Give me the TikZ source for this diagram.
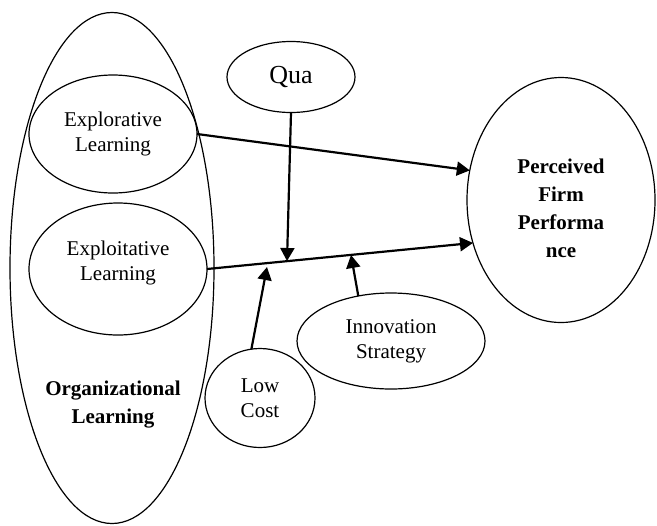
\documentclass[tikz,border=0pt]{standalone}
\usepackage{fontspec}
\setmainfont{Liberation Serif}
\usetikzlibrary{shapes.geometric, arrows.meta}
\tikzstyle{construct} = [ellipse, draw, line width=0.6pt, inner sep=0pt, outer sep=0pt, align=center, font=\fontsize{10.5}{12.5}\selectfont]
\tikzstyle{plaintext} = [align=center, font=\fontsize{10.5}{12.5}\selectfont]
\tikzstyle{boldtext} = [align=center, font=\fontsize{10.5}{14}\selectfont\bfseries]
\tikzstyle{effect} = [-{Triangle[length=6.5pt, width=7pt]}, line width=1.1pt]

\begin{document}
\begin{tikzpicture}[x=0.5pt, y=-0.5pt]
    \useasboundingbox (0,0) rectangle (657,525);

    % Organizational learning and its two dimensions
    \node[construct, minimum width=102pt, minimum height=255.5pt] (org) at (112, 268) {};
    \node[boldtext] (orgtext) at (113, 405) {Organizational\\Learning};
    \node[construct, minimum width=84pt, minimum height=59pt] (explore) at (113, 134) {Explorative\\Learning};
    \node[construct, minimum width=89pt, minimum height=66pt,
          label={[plaintext, yshift=3pt]center:Exploitative\\Learning}] (exploit) at (118, 269) {};

    % Outcome
    \node[construct, minimum width=94pt, minimum height=122.5pt,
          label={[boldtext, yshift=-4pt]center:Perceived\\Firm\\Performa\\nce}] (perf) at (561, 200) {};

    % Moderators
    \node[construct, minimum width=64pt, minimum height=35.5pt, font=\fontsize{13}{15}\selectfont] (qua) at (291, 77) {Qua};
    \node[construct, minimum width=55pt, minimum height=49.5pt] (lowcost) at (260, 398) {Low\\Cost};
    \node[construct, minimum width=94pt, minimum height=48pt] (innov) at (391, 341) {Innovation\\Strategy};

    % Points on the exploitative path
    \coordinate (quatip) at (287, 261);
    \coordinate (lowtip) at (267, 267);
    \coordinate (innovtip) at (351, 255);

    % Direct effects
    \draw[effect] (explore.east) -- (perf.162);
    \draw[effect] (exploit.east) -- (perf.206);

    % Moderating effects
    \draw[effect] (qua.south) -- (quatip);
    \draw[effect] (lowcost.100) -- (lowtip);
    \draw[effect] (innov.126) -- (innovtip);
\end{tikzpicture}
\end{document}
